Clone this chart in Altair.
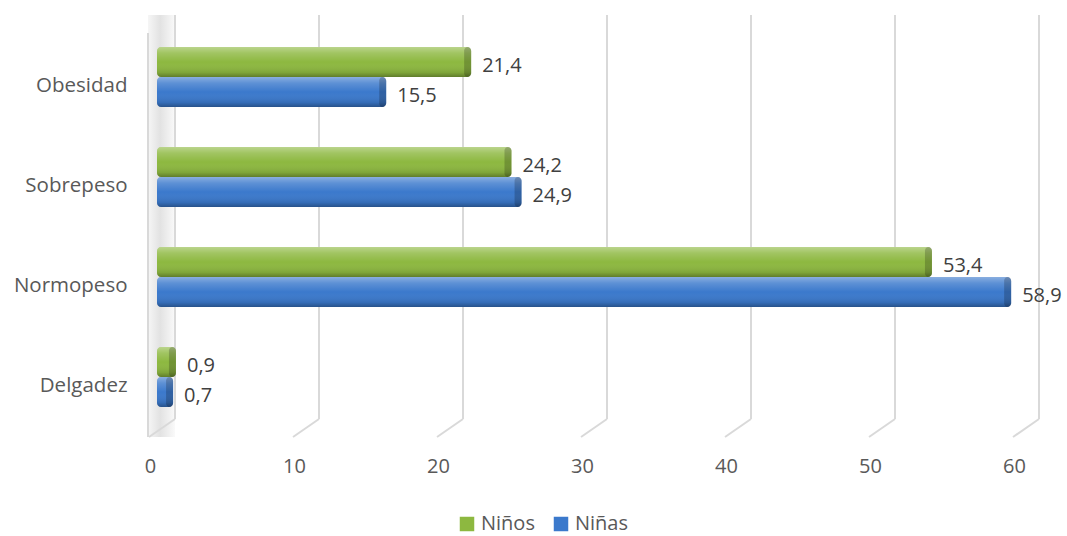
import altair as alt
import pandas as pd

categories = ["Obesidad", "Sobrepeso", "Normopeso", "Delgadez"]
series = ["Niños", "Niñas"]
ninos = [21.4, 24.2, 53.4, 0.9]
ninas = [15.5, 24.9, 58.9, 0.7]
x_ticks = [0, 10, 20, 30, 40, 50, 60]
colors = ["#8DB840", "#3B79CC"]

rows = []
for c, a, b in zip(categories, ninos, ninas):
    rows.append({"cat": c, "serie": "Niños", "val": a, "base": 0, "lab": f"{a:.1f}".replace(".", ",")})
    rows.append({"cat": c, "serie": "Niñas", "val": b, "base": 0, "lab": f"{b:.1f}".replace(".", ",")})
df = pd.DataFrame(rows)
grid_df = pd.DataFrame({"t": x_ticks})

FONT = "Open Sans"
W, H = 864, 400

xscale = alt.Scale(domain=[0, 60], nice=False, zero=True)
yscale = alt.Scale(domain=categories, paddingInner=0.4, paddingOuter=0.2)
x_axis = alt.Axis(title=None, values=x_ticks, ticks=False, domain=False,
                  grid=False, labelPadding=29, labelOffset=-7, labelFlush=False,
                  labelFont=FONT, labelFontSize=20, labelColor="#595959")

wall = alt.Chart(grid_df).transform_filter("datum.t == 0").mark_rect(
    xOffset=-9, x2Offset=18, opacity=0.6,
    fill=alt.Gradient(gradient="linear", x1=0, x2=1, y1=0, y2=0,
                      stops=[alt.GradientStop(color="#f0f0f0", offset=0),
                             alt.GradientStop(color="#cfcfcf", offset=0.45),
                             alt.GradientStop(color="#f6f6f6", offset=1)]),
).encode(
    x=alt.X("t:Q", scale=xscale, axis=x_axis), x2="t:Q",
    y=alt.value(-12), y2=alt.value(410),
)
wall_edge = alt.Chart(grid_df).transform_filter("datum.t == 0").mark_rule(
    color="#d9d9d9", strokeWidth=2, xOffset=-9
).encode(
    x=alt.X("t:Q", scale=xscale, axis=x_axis),
    y=alt.value(6), y2=alt.value(410),
)

grid_v = alt.Chart(grid_df).mark_rule(
    color="#d9d9d9", strokeWidth=2, xOffset=18
).encode(
    x=alt.X("t:Q", scale=xscale, axis=x_axis),
    y=alt.value(-12), y2=alt.value(392),
)
grid_d = alt.Chart(grid_df).mark_rule(
    color="#d9d9d9", strokeWidth=2, xOffset=18, x2Offset=-8
).encode(
    x=alt.X("t:Q", scale=xscale, axis=x_axis),
    x2="t:Q",
    y=alt.value(392), y2=alt.value(410),
)

enc_y = alt.Y("cat:N", scale=yscale, sort=categories,
              axis=alt.Axis(title=None, ticks=False, domain=False, labelPadding=30,
                            labelOffset=9, labelFont=FONT, labelFontSize=20.5,
                            labelColor="#595959"))
enc_yo = alt.YOffset("serie:N", sort=series)

bars = alt.Chart(df).mark_bar(cornerRadiusEnd=4, xOffset=6).encode(
    x=alt.X("val:Q", scale=xscale, axis=x_axis),
    x2="base:Q",
    y=enc_y,
    yOffset=enc_yo,
    color=alt.Color("serie:N", scale=alt.Scale(domain=series, range=colors),
                    sort=series,
                    legend=alt.Legend(title=None, orient="none", legendX=300, legendY=487,
                                      direction="horizontal", symbolType="square",
                                      symbolSize=210, symbolOffset=0,
                                      labelFont=FONT, labelFontSize=20,
                                      labelColor="#595959", columnPadding=16)),
)

shade = alt.Chart(df).mark_bar(
    cornerRadiusEnd=4, xOffset=6,
    fill=alt.Gradient(gradient="linear", x1=0, x2=0, y1=0, y2=1,
                      stops=[alt.GradientStop(color="rgba(255,255,255,0.40)", offset=0),
                             alt.GradientStop(color="rgba(255,255,255,0.18)", offset=0.2),
                             alt.GradientStop(color="rgba(255,255,255,0.0)", offset=0.5),
                             alt.GradientStop(color="rgba(0,0,0,0.10)", offset=0.85),
                             alt.GradientStop(color="rgba(0,0,0,0.32)", offset=1)]),
).encode(x=alt.X("val:Q", scale=xscale, axis=x_axis), x2="base:Q",
         y=alt.Y("cat:N", sort=categories), yOffset=enc_yo)

cap = alt.Chart(df).mark_bar(
    xOffset=6, x2Offset=-1, color="black", opacity=0.2, cornerRadiusEnd=4
).encode(x=alt.X("val:Q", scale=xscale, axis=x_axis), x2="val:Q",
         y=alt.Y("cat:N", sort=categories), yOffset=enc_yo)

text = alt.Chart(df).mark_text(
    align="left", baseline="middle", dx=17, dy=4, font=FONT, fontSize=20, color="#404040"
).encode(x=alt.X("val:Q", scale=xscale, axis=x_axis),
         y=alt.Y("cat:N", sort=categories), yOffset=enc_yo, text="lab:N")

chart = alt.layer(wall, wall_edge, grid_v, grid_d, bars, shade, cap, text).properties(
    width=W, height=H,
    background="white",
    autosize=alt.AutoSizeParams(type="none"),
    padding={"left": 157, "top": 27, "right": 46, "bottom": 109},
).configure_view(stroke=None)

chart.save("out.html", embed_options={"renderer": "svg", "actions": False})
